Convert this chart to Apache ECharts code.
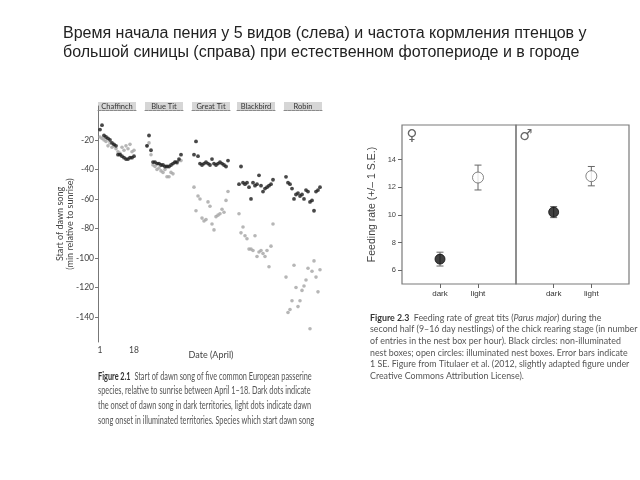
<!DOCTYPE html>
<html><head><meta charset="utf-8">
<script src="https://cdn.jsdelivr.net/npm/echarts@6/dist/echarts.min.js"></script>
<style>html,body{margin:0;padding:0;background:#fff}#c{width:640px;height:480px}</style>
</head><body><div id="c"></div>
<script>
// ---------- data: dawn song (Figure 2.1) ----------
const species = ['Chaffinch', 'Blue Tit', 'Great Tit', 'Blackbird', 'Robin'];
const days = [1,2,3,4,5,6,7,8,9,10,11,12,13,14,15,16,17,18];
const darkChaffinch = [-13,-10,-17,-18,-19,-20,-22,-23,-24,-30,-30,-31,-32,-33,-33,-32,-32,-31];
const lightChaffinch = [-18,-19,-20,-21,-24,-22,-25,-24,-26,-28,-29,-25,-27,-24,-26,-23,-28,-27];
const darkBlueTit = [-24,-17,-27,-35,-35,-36,-36,-37,-37,-38,-38,-38,-37,-36,-35,-35,-33,-30];
const lightBlueTit = [-24,-22,-30,-37,-38,-40,-39,-41,-42,-40,-45,-45,-42,-43,-35,-36,-34,-34];
const darkGreatTit = [-30,-21,-31,-36,-37,-36,-35,-36,-37,-33,-36,-37,-36,-35,-36,-37,-38,-34];
const lightGreatTit = [-52,-68,-58,-60,-73,-75,-74,-62,-65,-77,-81,-72,-71,-70,-67,-69,-61,-55];
const darkBlackbird = [-50,-38,-49,-50,-49,-52,-60,-49,-51,-50,-44,-51,-55,-53,-52,-51,-50,-47];
const lightBlackbird = [-70,-83,-79,-85,-87,-94,-94,-95,-85,-99,-96,-95,-97,-99,-95,-106,-92,-77];
const darkRobin = [-45,-49,-50,-53,-60,-57,-56,-58,-57,-60,-54,-55,-62,-61,-68,-55,-54,-52];
const lightRobin = [-113,-137,-135,-129,-105,-120,-133,-129,-122,-119,-115,-107,-148,-109,-102,-113,-123,-108];
const dawnTicks = [-20,-40,-60,-80,-100,-120,-140];
const dateTicks = [1, 18];

// ---------- data: feeding rate (Figure 2.3) ----------
const treatments = ['dark', 'light'];
const femaleMean = [6.8, 12.7];
const femaleLow  = [6.3, 11.8];
const femaleHigh = [7.3, 13.6];
const maleMean = [10.2, 12.8];
const maleLow  = [9.8, 12.1];
const maleHigh = [10.6, 13.5];
const feedTicks = [6, 8, 10, 12, 14];

const darkAll = [darkChaffinch, darkBlueTit, darkGreatTit, darkBlackbird, darkRobin];
const lightAll = [lightChaffinch, lightBlueTit, lightGreatTit, lightBlackbird, lightRobin];

// ---------- layout ----------
const gridLefts = [98, 145, 192, 237, 284];
const gridW = 38, gridTop = 106, gridH = 236;
const FONT = 'Liberation Sans, Arial, sans-serif';
const CAPFONT = 'Lato, Open Sans, sans-serif';

const grids = [], xAxes = [], yAxes = [], series = [], graphics = [];

species.forEach((sp, i) => {
  grids.push({ left: gridLefts[i], top: gridTop, width: gridW, height: gridH });
  xAxes.push({
    type: 'value', gridIndex: i, min: 0, max: 19,
    axisLine: { show: true, lineStyle: { color: '#8a8a8a', width: 1, type: [3, 1] } },
    axisTick: { show: false }, splitLine: { show: false },
    axisLabel: i === 0 ? { show: true, customValues: dateTicks, fontSize: 8.5, color: '#444', margin: 4, fontFamily: CAPFONT } : { show: false },
    name: i === 2 ? 'Date (April)' : '', nameLocation: 'middle', nameGap: 9, nameMoveOverlap: false,
    nameTextStyle: { fontSize: 9, color: '#444', fontFamily: CAPFONT }
  });
  yAxes.push({
    type: 'value', gridIndex: i, min: -157, max: 3,
    show: i === 0,
    axisLine: { show: true, onZero: false, lineStyle: { color: '#777', width: 1 } },
    axisTick: { show: true, customValues: dawnTicks, length: 3, lineStyle: { color: '#777' } },
    axisLabel: { show: true, customValues: dawnTicks, fontSize: 8.5, color: '#444', margin: 4, fontFamily: CAPFONT },
    splitLine: { show: false },
    name: 'Start of dawn song\n(min relative to sunrise)', nameLocation: 'middle', nameRotate: 90, nameGap: 23, nameMoveOverlap: false,
    nameTextStyle: { fontSize: 9, color: '#444', lineHeight: 10, fontFamily: CAPFONT }
  });
  series.push({
    type: 'scatter', xAxisIndex: i, yAxisIndex: i, symbolSize: 3.6,
    itemStyle: { color: '#a4a4a4' }, silent: true,
    data: days.map((d, j) => [d, lightAll[i][j]])
  });
  series.push({
    type: 'scatter', xAxisIndex: i, yAxisIndex: i, symbolSize: 3.8,
    itemStyle: { color: '#1a1a1a' }, silent: true,
    data: days.map((d, j) => [d, darkAll[i][j]])
  });
  graphics.push({ type: 'rect', shape: { x: gridLefts[i], y: 102, width: gridW, height: 9 }, style: { fill: '#d6d6d6' } });
  graphics.push({ type: 'text', style: { text: sp, x: gridLefts[i] + gridW / 2, y: 106.5, align: 'center', verticalAlign: 'middle', fontSize: 7.5, fill: '#333', fontFamily: CAPFONT } });
});

// feeding-rate panels
const feedLefts = [402, 516];
const feedW = [114, 113];
const feedTop = 125, feedH = 159;
const sexes = [
  { mean: femaleMean, low: femaleLow, high: femaleHigh, sym: '♀' },
  { mean: maleMean, low: maleLow, high: maleHigh, sym: '♂' }
];
sexes.forEach((s, k) => {
  const gi = 5 + k;
  grids.push({ left: feedLefts[k], top: feedTop, width: feedW[k], height: feedH, show: true, borderColor: '#7a7a7a', borderWidth: 1.2 });
  xAxes.push({
    type: 'value', gridIndex: gi, min: 0, max: 3,
    axisLine: { show: false }, splitLine: { show: false },
    axisTick: { show: true, customValues: [1, 2], length: 4, lineStyle: { color: '#666' } },
    axisLabel: { show: true, customValues: [1, 2], formatter: v => treatments[v - 1], fontSize: 8, color: '#333', margin: 6, fontFamily: FONT }
  });
  yAxes.push({
    type: 'value', gridIndex: gi, min: 5, max: 16.5,
    show: k === 0,
    axisLine: { show: false }, splitLine: { show: false },
    axisTick: { show: true, customValues: feedTicks, length: 4, lineStyle: { color: '#666' } },
    axisLabel: { show: true, customValues: feedTicks, fontSize: 7.5, color: '#444', margin: 6, fontFamily: FONT },
    name: 'Feeding rate (+/– 1 S.E.)', nameLocation: 'middle', nameRotate: 90, nameGap: 24, nameMoveOverlap: false,
    nameTextStyle: { fontSize: 10.5, color: '#444', fontFamily: FONT }
  });
  series.push({
    type: 'custom', xAxisIndex: gi, yAxisIndex: gi, silent: true, z: 2,
    data: treatments.map((t, j) => [j + 1, s.low[j], s.high[j]]),
    encode: { x: 0, y: [1, 2] },
    renderItem: (params, api) => {
      const x = api.value(0);
      const p1 = api.coord([x, api.value(1)]);
      const p2 = api.coord([x, api.value(2)]);
      const c = 3.5;
      const st = { stroke: '#666', lineWidth: 1 };
      return { type: 'group', children: [
        { type: 'line', shape: { x1: p1[0], y1: p1[1], x2: p2[0], y2: p2[1] }, style: st },
        { type: 'line', shape: { x1: p1[0] - c, y1: p1[1], x2: p1[0] + c, y2: p1[1] }, style: st },
        { type: 'line', shape: { x1: p2[0] - c, y1: p2[1], x2: p2[0] + c, y2: p2[1] }, style: st }
      ] };
    }
  });
  series.push({
    type: 'scatter', xAxisIndex: gi, yAxisIndex: gi, z: 5, silent: true,
    data: treatments.map((t, j) => ({
      value: [j + 1, s.mean[j]],
      symbolSize: j === 0 ? 10 : 11,
      itemStyle: j === 0 ? { color: '#111', borderColor: '#111', borderWidth: 1 } : { color: '#fff', borderColor: '#666', borderWidth: 1 }
    }))
  });
  graphics.push({ type: 'text', style: { text: s.sym, x: feedLefts[k] + 10, y: feedTop + 11, align: 'center', verticalAlign: 'middle', fontSize: 15, fill: '#666', fontFamily: 'DejaVu Sans' } });
});

// captions
graphics.push({
  type: 'text', x: 98, y: 369, scaleX: 0.68, scaleY: 1,
  style: {
    text: '{b|Figure 2.1}  Start of dawn song of five common European passerine\nspecies, relative to sunrise between April 1–18. Dark dots indicate\nthe onset of dawn song in dark territories, light dots indicate dawn\nsong onset in illuminated territories. Species which start dawn song',
    fontSize: 10.8, lineHeight: 14.6, fill: '#555', fontFamily: CAPFONT,
    rich: { b: { fontWeight: 'bold', fill: '#333', fontSize: 10.8, fontFamily: CAPFONT } }
  }
});
graphics.push({
  type: 'text', x: 370, y: 312, scaleX: 0.93, scaleY: 1,
  style: {
    text: '{b|Figure 2.3}  Feeding rate of great tits ({i|Parus major}) during the\nsecond half (9–16 day nestlings) of the chick rearing stage (in number\nof entries in the nest box per hour). Black circles: non-illuminated\nnest boxes; open circles: illuminated nest boxes. Error bars indicate\n1 SE. Figure from Titulaer et al. (2012, slightly adapted figure under\nCreative Commons Attribution License).',
    fontSize: 9.5, lineHeight: 11.6, fill: '#555', fontFamily: CAPFONT,
    rich: {
      b: { fontWeight: 'bold', fill: '#333', fontSize: 9.5, fontFamily: CAPFONT },
      i: { fontStyle: 'italic', fill: '#555', fontSize: 9.5, fontFamily: CAPFONT }
    }
  }
});

const chart = echarts.init(document.getElementById('c'), null, { renderer: 'canvas' });
chart.setOption({
  backgroundColor: '#fff',
  animation: false,
  title: {
    text: 'Время начала пения у 5 видов (слева) и частота кормления птенцов у\nбольшой синицы (справа) при естественном фотопериоде и в городе',
    left: 58, top: 19,
    textStyle: { fontSize: 16, fontWeight: 'normal', color: '#222', lineHeight: 19, fontFamily: FONT }
  },
  grid: grids, xAxis: xAxes, yAxis: yAxes, series: series, graphic: graphics
});
</script></body></html>
